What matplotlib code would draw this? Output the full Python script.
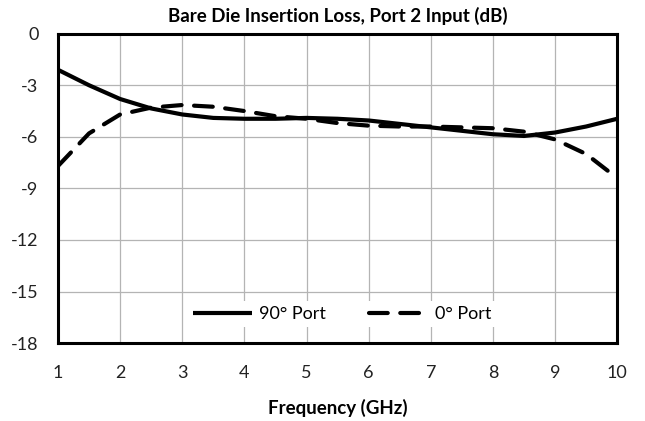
import matplotlib.pyplot as plt

plt.rcParams['font.family'] = ['Lato', 'DejaVu Sans']
plt.rcParams['axes.unicode_minus'] = False

# values (GHz, dB)
freq = [1, 1.5, 2, 2.5, 3, 3.5, 4, 4.5, 5, 5.5, 6, 6.5, 7, 7.5, 8, 8.5, 9, 9.5, 10]
loss_90 = [-2.1, -3.0, -3.8, -4.35, -4.7, -4.9, -4.95, -4.95, -4.9, -4.95,
           -5.05, -5.25, -5.45, -5.65, -5.85, -5.95, -5.75, -5.4, -4.95]
loss_0 = [-7.7, -5.8, -4.7, -4.3, -4.15, -4.25, -4.5, -4.8, -4.95, -5.2,
          -5.35, -5.4, -5.4, -5.45, -5.5, -5.7, -6.15, -7.0, -8.4]

x_ticks = list(range(1, 11))
y_ticks = [0, -3, -6, -9, -12, -15, -18]

fig = plt.figure(figsize=(6.45, 4.21), dpi=100)
ax = fig.add_axes([0.0899, 0.185, 0.867, 0.735])

ax.plot(freq, loss_90, color="black", lw=3, solid_capstyle="butt", label="90° Port")
ax.plot(freq, loss_0, color="black", lw=3, linestyle=(0, (4.5, 3)),
        dash_capstyle="round", label="0° Port")

ax.set_xlim(1, 10)
ax.set_ylim(-18, 0)
ax.set_xticks(x_ticks)
ax.set_yticks(y_ticks)
ax.grid(True, color="#b4b4b4", lw=0.9)
ax.set_axisbelow(True)
ax.tick_params(length=0, labelsize=13, colors="#222222")
ax.tick_params(axis="x", pad=16)
ax.tick_params(axis="y", pad=14)
for s in ax.spines.values():
    s.set_linewidth(2.2)
    s.set_color("black")

ax.set_title("Bare Die Insertion Loss, Port 2 Input (dB)", fontsize=13.5,
             fontweight="bold", pad=8.5)
ax.set_xlabel("Frequency (GHz)", fontsize=13.5, fontweight="bold", labelpad=13)

leg = ax.legend(loc="center", bbox_to_anchor=(0.508, 0.094), ncol=2,
                fontsize=13, frameon=True, fancybox=False, framealpha=1,
                edgecolor="none", handlelength=3.3, handletextpad=0.35,
                columnspacing=2.4, borderpad=0.3)

fig.savefig("out.png", dpi=100)
